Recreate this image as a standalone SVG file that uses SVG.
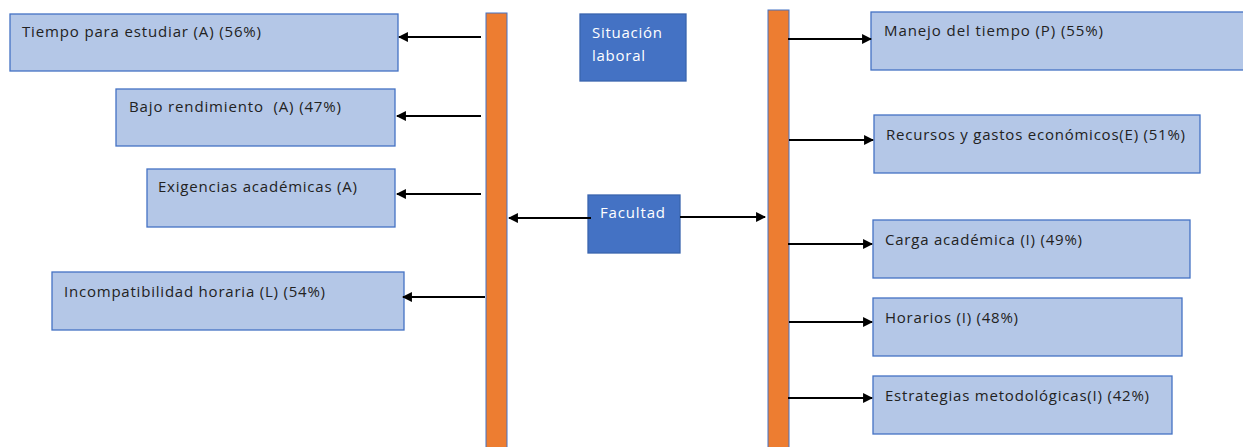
<svg xmlns="http://www.w3.org/2000/svg" width="1243" height="447" viewBox="0 0 1243 447">
<defs>
<style>
.box{fill:#B4C7E7;stroke:#4472C4;stroke-width:1.3}
.dbox{fill:#4472C4;stroke:#3A64AE;stroke-width:1.3}
.bar{fill:#ED7D31;stroke:#4472C4;stroke-width:1}
.t{font-family:"Open Sans","Noto Sans",sans-serif;font-size:15px;fill:#222}
.w{font-family:"Open Sans","Noto Sans",sans-serif;font-size:15px;fill:#fff}
.c{stroke:#000;stroke-width:2.2;fill:none;marker-end:url(#ah)}
</style>
<marker id="ah" viewBox="0 0 10 10" refX="9" refY="5" markerWidth="4.5" markerHeight="4.5" orient="auto" markerUnits="strokeWidth">
<path d="M0,0 L10,5 L0,10 z" fill="#000"/>
</marker>
</defs>
<rect width="1243" height="447" fill="#fff"/>
<g id="bar-left"><rect class="bar" x="486" y="13" width="21" height="440"/></g>
<g id="bar-right"><rect class="bar" x="768" y="10" width="21" height="443"/></g>
<g id="n-tiempo"><rect class="box" x="10" y="14" width="388" height="57"/><text class="t" x="22" y="37" textLength="239" lengthAdjust="spacing">Tiempo para estudiar (A) (56%)</text></g>
<g id="n-bajo"><rect class="box" x="116" y="89" width="279" height="57"/><text class="t" x="129" y="112" xml:space="preserve" textLength="212" lengthAdjust="spacing">Bajo rendimiento  (A) (47%)</text></g>
<g id="n-exig"><rect class="box" x="147" y="169" width="248" height="58"/><text class="t" x="158" y="192" textLength="199" lengthAdjust="spacing">Exigencias académicas (A)</text></g>
<g id="n-incomp"><rect class="box" x="52" y="272" width="352" height="58"/><text class="t" x="64" y="297" textLength="261" lengthAdjust="spacing">Incompatibilidad horaria (L) (54%)</text></g>
<g id="n-situacion"><rect class="dbox" x="580" y="14" width="106" height="67"/><text class="w" x="592" y="38" textLength="70" lengthAdjust="spacing">Situación</text><text class="w" x="592" y="61" textLength="53" lengthAdjust="spacing">laboral</text></g>
<g id="n-facultad"><rect class="dbox" x="588" y="195" width="92" height="58"/><text class="w" x="600" y="218" textLength="65" lengthAdjust="spacing">Facultad</text></g>
<g id="n-manejo"><rect class="box" x="871" y="12" width="380" height="58"/><text class="t" x="884" y="36" textLength="219" lengthAdjust="spacing">Manejo del tiempo (P) (55%)</text></g>
<g id="n-recursos"><rect class="box" x="874" y="115" width="326" height="58"/><text class="t" x="886" y="140" textLength="299" lengthAdjust="spacing">Recursos y gastos económicos(E) (51%)</text></g>
<g id="n-carga"><rect class="box" x="873" y="220" width="317" height="58"/><text class="t" x="885" y="245" textLength="197" lengthAdjust="spacing">Carga académica (I) (49%)</text></g>
<g id="n-horarios"><rect class="box" x="873" y="298" width="309" height="58"/><text class="t" x="885" y="323" textLength="133" lengthAdjust="spacing">Horarios (I) (48%)</text></g>
<g id="n-estrategias"><rect class="box" x="873" y="376" width="299" height="58"/><text class="t" x="885" y="401" textLength="264" lengthAdjust="spacing">Estrategias metodológicas(I) (42%)</text></g>
<g id="connectors">
<line class="c" x1="481" y1="37" x2="399" y2="37"/>
<line class="c" x1="481" y1="116" x2="397" y2="116"/>
<line class="c" x1="481" y1="194" x2="397" y2="194"/>
<line class="c" x1="485" y1="297" x2="403" y2="297"/>
<line class="c" x1="591" y1="218" x2="509" y2="218"/>
<line class="c" x1="680" y1="217" x2="765" y2="217"/>
<line class="c" x1="788" y1="39" x2="871" y2="39"/>
<line class="c" x1="789" y1="140" x2="873" y2="140"/>
<line class="c" x1="788" y1="244" x2="872" y2="244"/>
<line class="c" x1="789" y1="322" x2="872" y2="322"/>
<line class="c" x1="788" y1="398" x2="872" y2="398"/>
</g>
</svg>
